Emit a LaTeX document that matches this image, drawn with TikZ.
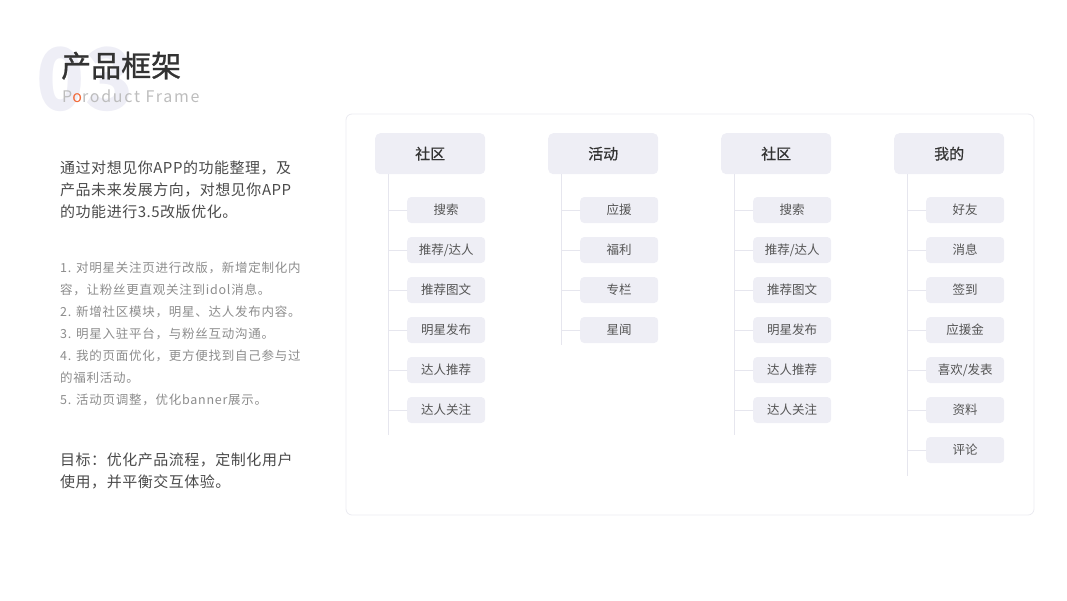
\documentclass[tikz,border=0pt]{standalone}
\usepackage{fontspec}
\setmainfont{Noto Sans CJK SC}
\definecolor{titlec}{HTML}{333333}
\definecolor{engc}{HTML}{BDBDBD}
\definecolor{orangec}{HTML}{F26B3A}
\definecolor{parac}{HTML}{4A4A4A}
\definecolor{listc}{HTML}{8C8C8C}
\definecolor{boxc}{HTML}{EEEEF5}
\definecolor{linec}{HTML}{E6E6EE}
\definecolor{panelc}{HTML}{EAEAF0}
\definecolor{bgnum}{HTML}{EEEEF6}
\definecolor{childtxt}{HTML}{555555}
\tikzset{
  headbox/.style={fill=boxc, rounded corners=5pt, minimum width=110pt, minimum height=41pt, inner sep=0pt, font=\fontsize{15}{15}\selectfont\addfontfeatures{FakeBold=0.6}, text=titlec},
  childbox/.style={fill=boxc, rounded corners=4pt, minimum width=78pt, minimum height=26pt, inner sep=0pt, font=\fontsize{12.5}{12.5}\selectfont, text=childtxt},
  conn/.style={draw=linec, line width=0.8pt},
  txt/.style={anchor=base west, inner sep=0pt},
}
\begin{document}
\begin{tikzpicture}[x=1pt,y=-1pt]
\useasboundingbox (0,0) rectangle (1067,600);
% background number
\node[anchor=base, inner sep=0pt, text=bgnum, xscale=0.92, font=\fontsize{86}{86}\selectfont\bfseries] (bgn) at (85,110) {03};
% title
\node[txt, text=titlec, font=\fontsize{30}{30}\selectfont\addfontfeatures{FakeBold=0.8}] (title) at (61,77) {产品框架};
\node[txt, text=engc, font=\fontsize{16}{16}\selectfont\addfontfeatures{LetterSpace=11}] (eng) at (62,102) {P\textcolor{orangec}{o}roduct Frame};
% intro paragraph
\begin{scope}[every node/.style={txt, text=parac, font=\fontsize{15}{15}\selectfont\addfontfeatures{LetterSpace=3.5}}]
\node (p1) at (60,173) {通过对想见你APP的功能整理，及};
\node (p2) at (60,195) {产品未来发展方向，对想见你APP};
\node (p3) at (60,217) {的功能进行3.5改版优化。};
\end{scope}
% list
\begin{scope}[every node/.style={txt, text=listc, font=\fontsize{12.5}{12.5}\selectfont\addfontfeatures{LetterSpace=6}}]
\node (l1) at (60,272) {1. 对明星关注页进行改版，新增定制化内};
\node (l2) at (60,294) {容，让粉丝更直观关注到idol消息。};
\node (l3) at (60,316) {2. 新增社区模块，明星、达人发布内容。};
\node (l4) at (60,338) {3. 明星入驻平台，与粉丝互动沟通。};
\node (l5) at (60,360) {4. 我的页面优化，更方便找到自己参与过};
\node (l6) at (60,382) {的福利活动。};
\node (l7) at (60,404) {5. 活动页调整，优化banner展示。};
\end{scope}
% goal
\begin{scope}[every node/.style={txt, text=parac, font=\fontsize{15}{15}\selectfont\addfontfeatures{LetterSpace=3.5}}]
\node (g1) at (60,465) {目标：优化产品流程，定制化用户};
\node (g2) at (60,487) {使用，并平衡交互体验。};
\end{scope}
% panel
\draw[draw=panelc, line width=0.8pt, rounded corners=6pt] (346,114) rectangle (1034,515);
% columns
\foreach \c/\hx/\ly/\title/\items in {
  1/375/435/社区/{搜索,推荐/达人,推荐图文,明星发布,达人推荐,达人关注},
  2/548/345/活动/{应援,福利,专栏,星闻},
  3/721/435/社区/{搜索,推荐/达人,推荐图文,明星发布,达人推荐,达人关注},
  4/894/476/我的/{好友,消息,签到,应援金,喜欢/发表,资料,评论}}{
  \node[headbox, anchor=north west] (h\c) at (\hx,133) {\title};
  \coordinate (top\c) at (\hx+13.5,174);
  \coordinate (end\c) at (\hx+13.5,\ly);
  \draw[conn] (top\c) -- (end\c);
  \foreach \t [count=\j] in \items {
    \node[childbox, anchor=west] (k\c-\j) at (\hx+32,170+40*\j) {\t};
    \draw[conn] (k\c-\j.west) -- (k\c-\j.west -| top\c);
  }
}
\end{tikzpicture}
\end{document}
